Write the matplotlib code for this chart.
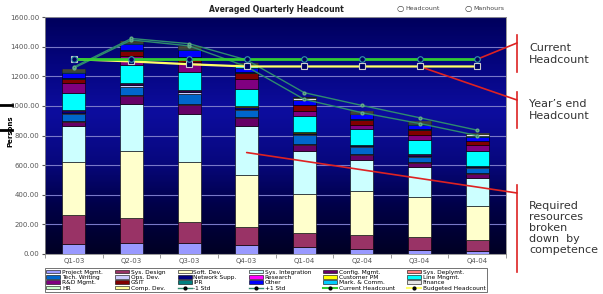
import numpy as np
import matplotlib
matplotlib.use('Agg')
import matplotlib.pyplot as plt
from matplotlib.lines import Line2D
from matplotlib.patches import Patch

# quarters
quarters = ['Q1-03', 'Q2-03', 'Q3-03', 'Q4-03', 'Q1-04', 'Q2-04', 'Q3-04', 'Q4-04']

# headcount per competence (stack order, bottom -> top)
project_mgmt   = [66, 72, 72, 61, 45, 34, 27, 20]
sys_design     = [194, 174, 147, 120, 99, 95, 91, 75]
soft_dev       = [362, 448, 403, 355, 263, 298, 264, 230]
sys_integr     = [241, 316, 325, 327, 290, 206, 206, 188]
config_mgmt    = [27, 55, 60, 54, 40, 38, 27, 29]
sys_deplymt    = [5, 6, 6, 5, 5, 5, 4, 4]
tech_writing   = [50, 57, 70, 50, 63, 47, 37, 35]
ops_dev        = [10, 10, 9, 9, 6, 6, 6, 6]
network_supp   = [10, 10, 9, 10, 6, 6, 8, 6]
research       = [4, 4, 3, 4, 3, 2, 3, 2]
customer_pm    = [4, 4, 3, 4, 2, 2, 3, 2]
line_mngmt     = [112, 118, 123, 117, 109, 102, 92, 100]
rd_mgmt        = [67, 64, 65, 68, 34, 29, 34, 38]
gsit           = [32, 32, 30, 36, 38, 34, 34, 25]
ipr            = [6, 7, 8, 7, 6, 6, 6, 5]
other          = [35, 40, 45, 32, 28, 32, 28, 28]
mark_comm      = [6, 6, 7, 8, 6, 6, 6, 6]
finance        = [6, 6, 7, 10, 8, 7, 8, 8]
hr             = [5, 5, 5, 7, 6, 5, 7, 6]
comp_dev       = [5, 5, 5, 6, 5, 5, 6, 5]

minus_std      = [1255, 1445, 1405, 1265, 1044, 954, 881, 800]
plus_std       = [1262, 1455, 1420, 1310, 1089, 1003, 920, 836]
current_hc     = [1315, 1315, 1315, 1315, 1315, 1315, 1315, 1315]
budgeted_hc    = [1315, 1300, 1281, 1266, 1266, 1266, 1266, 1266]

series = [
    ('Project Mgmt.', project_mgmt, '#9999FF'),
    ('Sys. Design', sys_design, '#993366'),
    ('Soft. Dev.', soft_dev, '#FFFFCC'),
    ('Sys. Integration', sys_integr, '#CCFFFF'),
    ('Config. Mgmt.', config_mgmt, '#660066'),
    ('Sys. Deplymt.', sys_deplymt, '#FF8080'),
    ('Tech. Writing', tech_writing, '#0066CC'),
    ('Ops. Dev.', ops_dev, '#CCCCFF'),
    ('Network Supp.', network_supp, '#000080'),
    ('Research', research, '#FF00FF'),
    ('Customer PM', customer_pm, '#FFFF00'),
    ('Line Mngmt.', line_mngmt, '#00FFFF'),
    ('R&D Mgmt.', rd_mgmt, '#800080'),
    ('GSIT', gsit, '#800000'),
    ('IPR', ipr, '#008080'),
    ('Other', other, '#0000FF'),
    ('Mark. & Comm.', mark_comm, '#00CCFF'),
    ('Finance', finance, '#E6E6E6'),
    ('HR', hr, '#CCFFCC'),
    ('Comp. Dev.', comp_dev, '#FFFF99'),
]

W, H = 603, 294
fig = plt.figure(figsize=(W / 100, H / 100), dpi=100)
ax = fig.add_axes([45 / W, 1 - 254 / H, (506 - 45) / W, (254 - 17) / H])

# plot area gradient (bottom -> top)
grad = np.array([[0.0, 0.0, 0.14], [0.0, 0.0, 0.28], [0.03, 0.03, 0.50],
                 [0.05, 0.05, 0.62], [0.02, 0.02, 0.50], [0.0, 0.0, 0.36]])
yy = np.linspace(0, 1, 256)
pos = np.linspace(0, 1, len(grad))
img = np.stack([np.interp(yy, pos, grad[:, c]) for c in range(3)], axis=1)[:, None, :]
ax.imshow(img, extent=[0, 1, 0, 1], transform=ax.transAxes, origin='lower',
          aspect='auto', zorder=0)

x = np.arange(len(quarters))
bottom = np.zeros(len(quarters))
handles = {}
for name, vals, col in series:
    ax.bar(x, vals, 0.4, bottom=bottom, color=col, edgecolor='black',
           linewidth=0.4, zorder=2)
    bottom += np.array(vals)
    handles[name] = Patch(facecolor=col, edgecolor='black', linewidth=0.4)

std_col = '#2E8B6E'
ax.plot(x, minus_std, color=std_col, lw=1, marker='o', ms=2, mfc='#2E8B6E', mec='#66AA88', zorder=4)
ax.plot(x, plus_std, color=std_col, lw=1, marker='o', ms=2, mfc='#2E8B6E', mec='#66AA88', zorder=4)
ax.plot(x, budgeted_hc, color='#FFFF66', lw=1.6, marker='s', ms=4, mfc='#000060',
        mec='#CCCCCC', mew=0.8, zorder=5)
ax.plot(x, current_hc, color='#33CC33', lw=2, marker='o', ms=4, mfc='#000060',
        mec='#3399AA', mew=0.8, zorder=6)
handles['-1 Std'] = Line2D([], [], color=std_col, lw=1, marker='o', ms=2, mfc='black', mec='black')
handles['+1 Std'] = Line2D([], [], color=std_col, lw=1, marker='o', ms=2, mfc='black', mec='black')
handles['Current Headcount'] = Line2D([], [], color='#33CC33', lw=1.5, marker='o', ms=2, mfc='black', mec='black')
handles['Budgeted Headcount'] = Line2D([], [], color='#FFFF66', lw=1.5, marker='o', ms=2, mfc='black', mec='black')

ax.set_xlim(-0.5, len(quarters) - 0.5)
ax.set_ylim(0, 1600)
ax.set_yticks(np.arange(0, 1601, 200))
ax.set_yticklabels(['%.2f' % v for v in np.arange(0, 1601, 200)])
ax.set_xticks(x)
ax.set_xticklabels(quarters)
ax.set_xticks(np.arange(-0.5, len(quarters), 1), minor=True)
ax.tick_params(axis='x', which='major', length=0, labelsize=5, colors='#555555', pad=3)
ax.tick_params(axis='x', which='minor', length=3, color='#888888')
ax.tick_params(axis='y', length=2, labelsize=5, colors='#555555', pad=2)
ax.grid(axis='y', color='#7878C8', lw=0.8, zorder=1)
ax.set_axisbelow(True)
for s in ax.spines.values():
    s.set_color('#888888')
    s.set_linewidth(0.6)
ax.set_ylabel('Persons', fontsize=5, fontweight='bold')
ax.yaxis.set_label_coords(-0.068, 0.52)

fig.text(276 / W, 1 - 9 / H, 'Averaged Quarterly Headcount', ha='center', va='center',
         fontsize=5.5, fontweight='bold', color='#222222')
fig.text(400 / W, 1 - 9 / H, '○', ha='center', va='center', fontsize=6, color='#333333')
fig.text(405 / W, 1 - 9 / H, 'Headcount', ha='left', va='center', fontsize=4.5, color='#444444')
fig.text(468 / W, 1 - 9 / H, '○', ha='center', va='center', fontsize=6, color='#333333')
fig.text(473 / W, 1 - 9 / H, 'Manhours', ha='left', va='center', fontsize=4.5, color='#444444')

# legend (column-major so it reads row by row like the original)
cols = [
    ['Project Mgmt.', 'Tech. Writing', 'R&D Mgmt.', 'HR'],
    ['Sys. Design', 'Ops. Dev.', 'GSIT', 'Comp. Dev.'],
    ['Soft. Dev.', 'Network Supp.', 'IPR', '-1 Std'],
    ['Sys. Integration', 'Research', 'Other', '+1 Std'],
    ['Config. Mgmt.', 'Customer PM', 'Mark. & Comm.', 'Current Headcount'],
    ['Sys. Deplymt.', 'Line Mngmt.', 'Finance', 'Budgeted Headcount'],
]
order = [n for c in cols for n in c]
leg = fig.legend([handles[n] for n in order], order, ncol=6, loc='lower left',
                 bbox_to_anchor=(45 / W, 2 / H, (487 - 45) / W, 26 / H), mode='expand',
                 fontsize=4.2, handlelength=2.4, handleheight=0.55, labelspacing=0.05,
                 borderpad=0.25, handletextpad=0.3, columnspacing=0.5,
                 frameon=True, fancybox=False, borderaxespad=0)
leg.get_frame().set_edgecolor('#333333')
leg.get_frame().set_linewidth(0.6)

# black marks on the left edge
fig.add_artist(Line2D([0, 12 / W], [1 - 105 / H] * 2, color='black', lw=2))
fig.add_artist(Line2D([0, 12 / W], [1 - 130 / H] * 2, color='black', lw=2))

# callouts
red = '#DD2222'
ax.annotate('', xy=(7, current_hc[7]), xycoords='data', xytext=(517, H - 43),
            textcoords='figure pixels', arrowprops=dict(arrowstyle='-', color=red, lw=1.2,
                                                         shrinkA=0, shrinkB=0),
            annotation_clip=False)
ax.annotate('', xy=(6, budgeted_hc[6]), xycoords='data', xytext=(517, H - 100),
            textcoords='figure pixels', arrowprops=dict(arrowstyle='-', color=red, lw=1.2,
                                                         shrinkA=0, shrinkB=0),
            annotation_clip=False)
ax.annotate('', xy=(3, 685), xycoords='data', xytext=(517, H - 193),
            textcoords='figure pixels', arrowprops=dict(arrowstyle='-', color=red, lw=1.2,
                                                         shrinkA=0, shrinkB=0),
            annotation_clip=False)
for y0, y1 in [(35, 72), (92, 128), (185, 272)]:
    fig.add_artist(Line2D([517 / W] * 2, [1 - y0 / H, 1 - y1 / H], color=red, lw=1.2))

txt = dict(ha='left', va='center', fontsize=8, color='#333333')
fig.text(529 / W, 1 - 54 / H, 'Current\nHeadcount', linespacing=1.2, **txt)
fig.text(529 / W, 1 - 110 / H, 'Year\u2019s end\nHeadcount', linespacing=1.2, **txt)
fig.text(529 / W, 1 - 228 / H, 'Required\nresources\nbroken\ndown  by\ncompetence',
         linespacing=1.1, **txt)

fig.savefig('out.png', dpi=100)
